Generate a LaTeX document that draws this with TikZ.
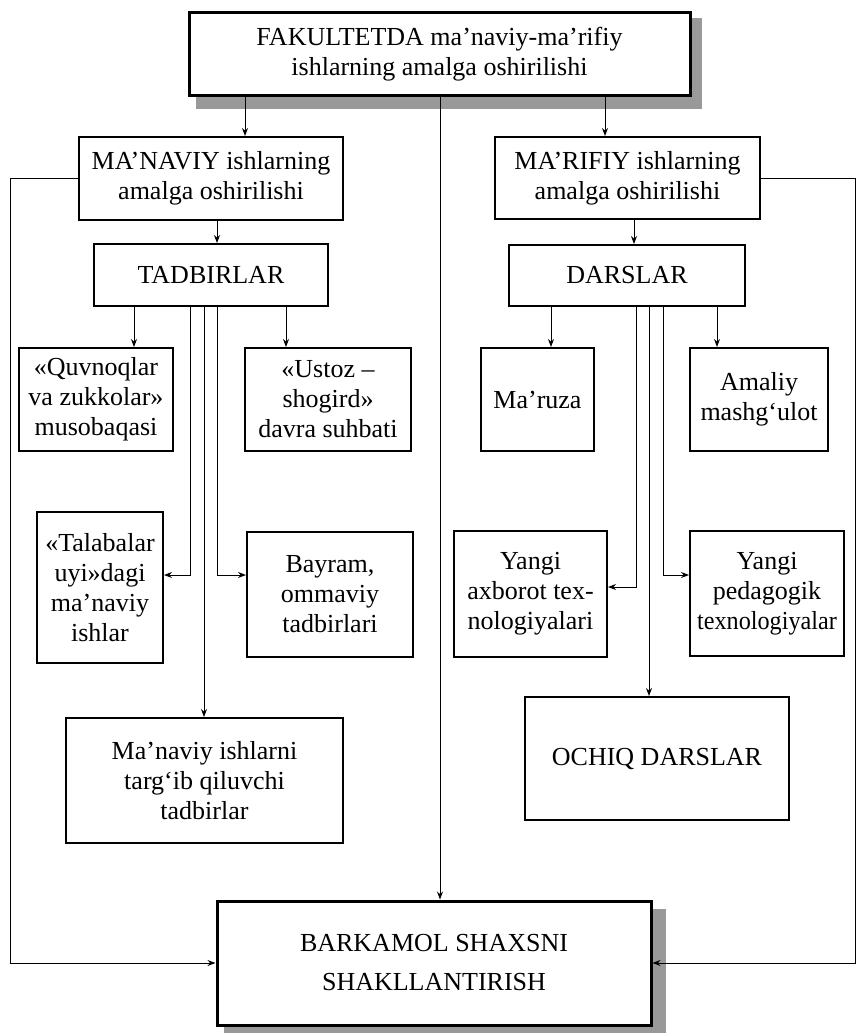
\documentclass[tikz,border=0pt]{standalone}
\usepackage{fontspec}
\setmainfont{Liberation Serif}
\usetikzlibrary{arrows.meta,calc}
\begin{document}
\begin{tikzpicture}[x=1pt,y=-1pt,
  box/.style={draw,fill=white,line width=2pt,inner sep=0pt,align=center,font=\fontsize{26}{30}\selectfont},
  mainbox/.style={box,line width=3pt},
  link/.style={line width=1pt},
  arr/.style={link,-{Stealth[length=8pt,width=6pt]}},
  shade/.style={fill=black!40}]
\useasboundingbox (0,0) rectangle (857,1033);
% shadows
\path (439.5,54) node[mainbox,draw=none,fill=none,minimum width=501pt,minimum height=82pt] (topS) {};
\fill[shade] ($(topS.north west)+(8,7)$) rectangle ($(topS.south east)+(10,12)$);
\path (434,963) node[mainbox,draw=none,fill=none,minimum width=434pt,minimum height=124pt] (barkS) {};
\fill[shade] ($(barkS.north west)+(8,9)$) rectangle ($(barkS.south east)+(13,7)$);
% boxes
\node[mainbox,minimum width=501pt,minimum height=82pt] (top) at (439.5,54) {FAKULTETDA ma’naviy-ma’rifiy\\ishlarning amalga oshirilishi};
\node[box,minimum width=264pt,minimum height=83pt] (man) at (211,178.5) {MA’NAVIY ishlarning\\amalga oshirilishi};
\node[box,minimum width=265pt,minimum height=82pt] (mar) at (627.5,178) {MA’RIFIY ishlarning\\amalga oshirilishi};
\node[box,minimum width=234pt,minimum height=62pt] (tad) at (211,275) {TADBIRLAR};
\node[box,minimum width=236pt,minimum height=61pt] (dar) at (627,275.5) {DARSLAR};
\node[box,minimum width=154pt,minimum height=103pt] (quv) at (96,399.5) {«Quvnoqlar\\va zukkolar»\\musobaqasi};
\node[box,minimum width=166pt,minimum height=103pt] (ust) at (328,399.5) {«Ustoz –\\shogird»\\davra suhbati};
\node[box,minimum width=113pt,minimum height=103pt] (maruza) at (537.5,399.5) {Ma’ruza};
\node[box,minimum width=138pt,minimum height=103pt] (ama) at (759,399.5) {Amaliy\\mashg‘ulot};
\node[box,minimum width=126pt,minimum height=151pt] (tal) at (100,587.5) {«Talabalar\\uyi»dagi\\ma’naviy\\ishlar};
\node[box,minimum width=166pt,minimum height=125pt] (bay) at (330,594.5) {Bayram,\\ommaviy\\tadbirlari};
\node[box,minimum width=153pt,minimum height=126pt] (yax) at (530.5,594) {Yangi\\axborot tex-\\nologiyalari};
\node[box,minimum width=154pt,minimum height=125pt] (yped) at (767,593.5) {Yangi\\pedagogik\\\scalebox{0.93}[1]{texnologiyalar}};
\node[box,minimum width=264pt,minimum height=123pt] (och) at (657,758.5) {OCHIQ DARSLAR};
\node[box,minimum width=277pt,minimum height=125pt] (mish) at (204.5,780.5) {Ma’naviy ishlarni\\targ‘ib qiluvchi\\tadbirlar};
\node[mainbox,minimum width=434pt,minimum height=124pt,font=\fontsize{26}{39}\selectfont] (bark) at (434,963) {BARKAMOL SHAXSNI\\SHAKLLANTIRISH};
% column coordinates
\coordinate (cA) at (245,0);
\coordinate (cB) at (605,0);
\coordinate (cC) at (440,0);
\coordinate (cD) at (217,0);
\coordinate (cE) at (634,0);
\coordinate (t1) at (134,0);
\coordinate (t2) at (190,0);
\coordinate (t3) at (204,0);
\coordinate (t4) at (217,0);
\coordinate (t5) at (286,0);
\coordinate (d1) at (551,0);
\coordinate (d2) at (636,0);
\coordinate (d3) at (649,0);
\coordinate (d4) at (663,0);
\coordinate (d5) at (717,0);
\coordinate (lx) at (10,0);
\coordinate (rx) at (855,0);
\coordinate (ya) at (0,575);
\coordinate (yb) at (0,587);
% connectors
\draw[arr] (top.south -| cA) -- (man.north -| cA);
\draw[arr] (top.south -| cB) -- (mar.north -| cB);
\draw[arr] (top.south -| cC) -- (bark.north -| cC);
\draw[arr] (man.south -| cD) -- (tad.north -| cD);
\draw[arr] (mar.south -| cE) -- (dar.north -| cE);
\draw[arr] (tad.south -| t1) -- (quv.north -| t1);
\draw[arr] (tad.south -| t5) -- (ust.north -| t5);
\draw[arr] (tad.south -| t2) -- (t2 |- ya) -- (tal.east |- ya);
\draw[arr] (tad.south -| t4) -- (t4 |- ya) -- (bay.west |- ya);
\draw[arr] (tad.south -| t3) -- (mish.north -| t3);
\draw[arr] (dar.south -| d1) -- (maruza.north -| d1);
\draw[arr] (dar.south -| d5) -- (ama.north -| d5);
\draw[arr] (dar.south -| d2) -- (d2 |- yb) -- (yax.east |- yb);
\draw[arr] (dar.south -| d4) -- (d4 |- ya) -- (yped.west |- ya);
\draw[arr] (dar.south -| d3) -- (och.north -| d3);
\draw[arr] (man.west) -- (lx |- man.west) -- (lx |- bark.west) -- (bark.west);
\draw[arr] (mar.east) -- (rx |- mar.east) -- (rx |- bark.east) -- (bark.east);
\end{tikzpicture}
\end{document}
